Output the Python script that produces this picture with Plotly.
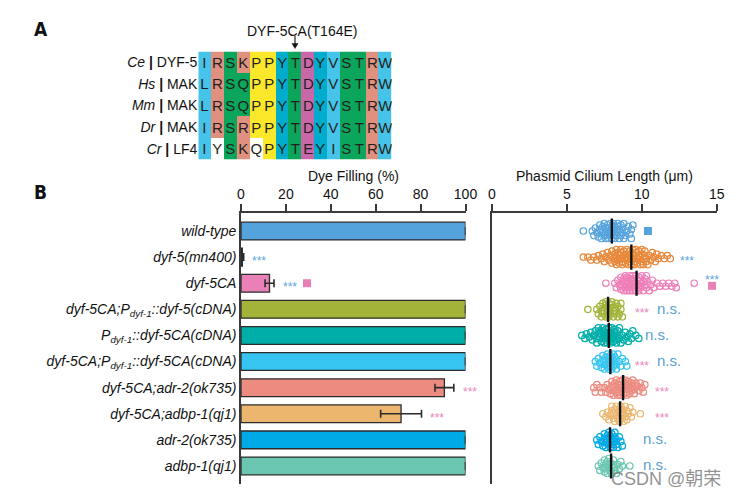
import math
import plotly.graph_objects as go

# ---------------- Panel A data ----------------
species = ["Ce", "Hs", "Mm", "Dr", "Cr"]
proteins = ["DYF-5", "MAK", "MAK", "MAK", "LF4"]
sequences = ["IRSKPPYTDYVSTRW", "LRSQPPYTDYVSTRW", "LRSQPPYTDYVSTRW",
             "IRSRPPYTDYVSTRW", "IYSKQPYTEYISTRW"]
shading = ["BSGSYYTGMTBGGSB", "BSGGYYTGMTBGGSB", "BSGGYYTGMTBGGSB",
           "BSGSYYTGMTBGGSB", "BWGSWYTGMTBGGSB"]
mutation_label = "DYF-5CA(T164E)"
mutation_col = 7

# ---------------- Panel B data ----------------
genotypes = [
    "<i>wild-type</i>",
    "<i>dyf-5(mn400)</i>",
    "<i>dyf-5CA</i>",
    "<i>dyf-5CA;P<sub>dyf-1</sub>::dyf-5(cDNA)</i>",
    "<i>P<sub>dyf-1</sub>::dyf-5CA(cDNA)</i>",
    "<i>dyf-5CA;P<sub>dyf-1</sub>::dyf-5CA(cDNA)</i>",
    "<i>dyf-5CA;adr-2(ok735)</i>",
    "<i>dyf-5CA;adbp-1(qj1)</i>",
    "<i>adr-2(ok735)</i>",
    "<i>adbp-1(qj1)</i>",
]
dye_filling = [100, 0.6, 12.7, 100, 100, 100, 90.6, 71.3, 100, 100]
dye_error = [0, 0.6, 2.0, 0, 0, 0, 4.2, 9.1, 0, 0]

len_wt = [6.1, 6.7, 6.8, 6.9, 7.0, 7.1, 7.2, 7.2, 7.3, 7.3, 7.4, 7.4, 7.5, 7.5, 7.6, 7.6,
          7.7, 7.7, 7.7, 7.8, 7.8, 7.8, 7.9, 7.9, 7.9, 8.0, 8.0, 8.0, 8.1, 8.1, 8.1, 8.2,
          8.2, 8.3, 8.3, 8.4, 8.4, 8.5, 8.5, 8.6, 8.6, 8.7, 8.7, 8.8, 8.8, 8.9, 9.0, 9.1,
          9.2, 9.3, 9.3, 9.4, 7.6, 8.2, 8.4]
len_mn400 = [6.1, 6.4, 6.6, 6.8, 7.0, 7.1, 7.3, 7.4, 7.5, 7.6, 7.7, 7.8, 7.9, 8.0, 8.0, 8.1,
             8.2, 8.2, 8.3, 8.3, 8.4, 8.4, 8.5, 8.5, 8.6, 8.6, 8.7, 8.7, 8.8, 8.8, 8.9, 8.9,
             9.0, 9.0, 9.0, 9.1, 9.1, 9.2, 9.2, 9.3, 9.3, 9.4, 9.4, 9.5, 9.5, 9.6, 9.6, 9.7,
             9.7, 9.8, 9.8, 9.9, 9.9, 10.0, 10.0, 10.1, 10.1, 10.2, 10.2, 10.3, 10.3, 10.4,
             10.5, 10.6, 10.7, 10.8, 10.9, 11.0, 11.1, 11.3, 11.5, 11.7, 11.9, 8.6, 9.2, 9.5,
             10.0, 8.3, 9.0, 9.8]
len_ca = [7.6, 8.2, 8.3, 8.4, 8.5, 8.6, 8.6, 8.7, 8.7, 8.8, 8.8, 8.9, 8.9, 9.0, 9.0, 9.0,
          9.1, 9.1, 9.1, 9.2, 9.2, 9.2, 9.3, 9.3, 9.3, 9.4, 9.4, 9.4, 9.5, 9.5, 9.5, 9.6,
          9.6, 9.7, 9.7, 9.8, 9.8, 9.9, 9.9, 10.0, 10.0, 10.1, 10.1, 10.2, 10.2, 10.3, 10.4,
          10.5, 10.6, 10.7, 10.8, 11.0, 11.2, 11.4, 11.6, 11.8, 12.0, 12.2, 12.3, 13.5, 9.0,
          9.4, 9.8, 10.3, 8.9]
len_ca_wtres = [6.4, 7.0, 7.1, 7.2, 7.3, 7.3, 7.4, 7.4, 7.5, 7.5, 7.6, 7.6, 7.6, 7.7, 7.7,
                7.7, 7.8, 7.8, 7.8, 7.9, 7.9, 8.0, 8.0, 8.1, 8.1, 8.2, 8.2, 8.3, 8.3, 8.4,
                8.5, 8.6, 8.7, 8.6, 8.4]
len_ca_cdna = [6.0, 6.2, 6.3, 6.5, 6.6, 6.7, 6.8, 6.9, 7.0, 7.0, 7.1, 7.1, 7.2, 7.2, 7.3,
               7.3, 7.4, 7.4, 7.5, 7.5, 7.5, 7.6, 7.6, 7.6, 7.7, 7.7, 7.7, 7.8, 7.8, 7.8,
               7.9, 7.9, 7.9, 8.0, 8.0, 8.0, 8.1, 8.1, 8.1, 8.2, 8.2, 8.3, 8.3, 8.4, 8.4,
               8.5, 8.5, 8.6, 8.7, 8.8, 8.9, 9.0, 9.1, 9.2, 9.3, 9.4, 9.6, 9.8, 7.6, 8.0,
               7.4, 8.2]
len_ca_cares = [6.9, 7.0, 7.1, 7.2, 7.3, 7.4, 7.4, 7.5, 7.5, 7.6, 7.6, 7.7, 7.7, 7.8, 7.8,
                7.8, 7.9, 7.9, 7.9, 8.0, 8.0, 8.1, 8.1, 8.2, 8.2, 8.3, 8.3, 8.4, 8.5, 8.6,
                8.7, 8.9, 9.0, 8.0]
len_ca_adr2 = [6.8, 6.9, 7.0, 7.2, 7.3, 7.5, 7.6, 7.7, 7.8, 7.9, 8.0, 8.0, 8.1, 8.1, 8.2,
               8.2, 8.3, 8.3, 8.4, 8.4, 8.5, 8.5, 8.6, 8.6, 8.7, 8.7, 8.8, 8.8, 8.9, 8.9,
               9.0, 9.0, 9.0, 9.1, 9.1, 9.2, 9.2, 9.3, 9.3, 9.4, 9.4, 9.5, 9.5, 9.6, 9.7,
               9.8, 9.9, 10.0, 10.1, 10.2, 8.6, 8.9, 9.1, 8.4]
len_ca_adbp1 = [7.4, 7.6, 7.7, 7.8, 7.9, 8.0, 8.0, 8.1, 8.1, 8.2, 8.2, 8.3, 8.3, 8.4, 8.4,
                8.5, 8.5, 8.6, 8.6, 8.7, 8.7, 8.8, 8.8, 8.9, 8.9, 9.0, 9.0, 9.1, 9.2, 9.3,
                9.4, 9.9, 8.6]
len_adr2 = [7.0, 7.1, 7.2, 7.3, 7.4, 7.5, 7.5, 7.6, 7.6, 7.7, 7.7, 7.8, 7.8, 7.9, 7.9, 8.0,
            8.0, 8.0, 8.1, 8.1, 8.2, 8.2, 8.3, 8.3, 8.4, 8.5, 8.6, 8.7, 7.9, 8.0]
len_adbp1 = [7.1, 7.2, 7.3, 7.4, 7.5, 7.5, 7.6, 7.6, 7.7, 7.7, 7.8, 7.8, 7.9, 7.9, 8.0, 8.0,
             8.1, 8.1, 8.2, 8.2, 8.3, 8.4, 8.5, 8.6, 8.7, 9.2]
cilium_lengths = [len_wt, len_mn400, len_ca, len_ca_wtres, len_ca_cdna, len_ca_cares,
                  len_ca_adr2, len_ca_adbp1, len_adr2, len_adbp1]
cilium_means = [8.0, 9.3, 9.65, 7.75, 7.8, 7.9, 8.75, 8.55, 7.88, 7.95]

# significance labels (row, text)
dye_sig_vs_wt = [(1, "***"), (2, "***")]
dye_sig_vs_ca = [(3, "***"), (5, "***"), (6, "***"), (7, "***")]
len_sig = [  # row, x (µm), text, colour key, dy
    (1, 13.0, "***", "b", 0), (2, 14.69, "***", "b", -0.26),
    (3, 10.0, "***", "p", 0), (3, 11.8, "n.s.", "n", 0),
    (4, 11.0, "n.s.", "n", 0),
    (5, 10.0, "***", "p", 0), (5, 11.8, "n.s.", "n", 0),
    (6, 11.35, "***", "p", 0), (7, 11.35, "***", "p", 0),
    (8, 10.9, "n.s.", "n", 0), (9, 10.9, "n.s.", "n", 0),
]

# ---------------- styles ----------------
FONT = "Liberation Sans, Arial, Helvetica, sans-serif"
DARK = "#2b2b2b"
BLUE_SIG = "#5aa6de"
PINK_SIG = "#ec84bb"
NS = "#5a9fd6"
bar_colors = ["#55a3dc", "#222222", "#ea80b8", "#a3b33a", "#00aea9", "#36c5f0",
              "#ec8b80", "#ecb66f", "#00aae6", "#6ac6b1"]
dot_colors = ["#55a3dc", "#e8883a", "#ee7eb8", "#a3b33a", "#00aea9", "#36c5f0",
              "#ec8b80", "#ecb66f", "#00aae6", "#6ac6b1"]
shade_index = {"W": 0, "B": 1, "S": 2, "G": 3, "Y": 4, "T": 5, "M": 6}
shade_colors = ["#ffffff", "#45c3e8", "#e0907e", "#0ba55b", "#fce82a", "#00accb", "#c868a8"]

W, H = 738, 497
ALIGN_X = (198.3, 391.7)   # alignment block, pixels
ALIGN_Y = (51.5, 159.5)


def px_x(p):
    return p / W


def px_y(p):
    return 1 - p / H


fig = go.Figure()

# ---------------- Panel A heatmap ----------------
z = [[shade_index[c] for c in row] for row in shading]
n = len(shade_colors)
cs = []
for i, c in enumerate(shade_colors):
    cs.append([i / n, c])
    cs.append([(i + 1) / n, c])
text = [list(s) for s in sequences]
fig.add_trace(go.Heatmap(
    z=z, x=list(range(len(sequences[0]))), y=list(range(len(sequences))),
    text=text, texttemplate="%{text}",
    textfont=dict(size=15, color="#231f20", family=FONT),
    colorscale=cs, zmin=-0.5, zmax=n - 0.5, showscale=False,
    xaxis="x3", yaxis="y3", hoverinfo="skip", xgap=0, ygap=0,
))

# ---------------- Panel B bars ----------------
rows = list(range(len(genotypes)))
fig.add_trace(go.Bar(
    x=dye_filling, y=rows, orientation="h", width=0.68,
    marker=dict(color=bar_colors, line=dict(color=DARK, width=1.3)),
    error_x=dict(type="data", array=dye_error, visible=True, color=DARK,
                 thickness=1.6, width=4),
    xaxis="x", yaxis="y", showlegend=False, hoverinfo="skip",
))


# ---------------- Panel B swarm ----------------
def swarm_offsets(vals, xscale=14.98, yscale=26.1, dmin=4.2, step=1.5, maxoff=8.0):
    order = sorted(range(len(vals)), key=lambda i: vals[i])
    cands = [0.0]
    k = 1
    while k * step <= maxoff:
        cands += [k * step, -k * step]
        k += 1
    placed = []
    offs = [0.0] * len(vals)
    for i in order:
        xp = vals[i] * xscale
        best, bestd = 0.0, -1
        for c in cands:
            md = 1e9
            for (qx, qy) in placed:
                if abs(xp - qx) < dmin:
                    md = min(md, math.hypot(xp - qx, c - qy))
            if md >= dmin:
                best = c
                break
            if md > bestd:
                bestd, best = md, c
        placed.append((xp, best))
        offs[i] = best / yscale
    return offs


for r, vals in enumerate(cilium_lengths):
    offs = swarm_offsets(vals)
    fig.add_trace(go.Scatter(
        x=vals, y=[r + o for o in offs], mode="markers",
        marker=dict(symbol="circle-open", size=6.5, color=dot_colors[r],
                    line=dict(width=1.2, color=dot_colors[r])),
        xaxis="x2", yaxis="y2", showlegend=False, hoverinfo="skip",
    ))

fig.add_trace(go.Scatter(
    x=cilium_means, y=rows, mode="markers",
    marker=dict(symbol="line-ns", size=18, line=dict(width=2.4, color="#111111")),
    xaxis="x2", yaxis="y2", showlegend=False, hoverinfo="skip",
))

# comparison squares
fig.add_trace(go.Scatter(
    x=[dye_filling[0] + 4.2, dye_filling[2] + dye_error[2] + 14.7],
    y=[0, 2], mode="markers",
    marker=dict(symbol="square", size=8, color=[bar_colors[0], bar_colors[2]]),
    xaxis="x", yaxis="y", showlegend=False, hoverinfo="skip", cliponaxis=False,
))
fig.add_trace(go.Scatter(
    x=[10.41, 14.69], y=[0, 2.1], mode="markers",
    marker=dict(symbol="square", size=8, color=[bar_colors[0], bar_colors[2]]),
    xaxis="x2", yaxis="y2", showlegend=False, hoverinfo="skip", cliponaxis=False,
))

annotations = []
# significance stars in bar panel
for r, t in dye_sig_vs_wt:
    annotations.append(dict(x=dye_filling[r] + dye_error[r] + 3, y=r, xref="x", yref="y",
                            text=t, showarrow=False, xanchor="left", yanchor="middle",
                            yshift=-4, font=dict(size=12, color=BLUE_SIG, family=FONT)))
for r, t in dye_sig_vs_ca:
    annotations.append(dict(x=dye_filling[r] + dye_error[r] + 3, y=r, xref="x", yref="y",
                            text=t, showarrow=False, xanchor="left", yanchor="middle",
                            yshift=-4, font=dict(size=12, color=PINK_SIG, family=FONT)))
for r, xv, t, ck, dy in len_sig:
    col = {"b": BLUE_SIG, "p": PINK_SIG, "n": NS}[ck]
    is_star = t == "***"
    annotations.append(dict(x=xv, y=r + dy, xref="x2", yref="y2", text=t, showarrow=False,
                            xanchor="center", yanchor="middle", yshift=-4 if is_star else 1,
                            font=dict(size=12 if is_star else 15, color=col, family=FONT)))


def label(xp, yp, txt, size, family=FONT, color="#111"):
    return dict(x=px_x(xp), y=px_y(yp), xref="paper", yref="paper", text=txt,
                showarrow=False, xanchor="center", yanchor="middle",
                font=dict(size=size, color=color, family=family))


# axis titles
annotations.append(dict(x=0.5, y=px_y(176), xref="x domain", yref="paper",
                        text="Dye Filling (%)", showarrow=False,
                        xanchor="center", yanchor="middle",
                        font=dict(size=14, color="#111", family=FONT)))
annotations.append(dict(x=0.5, y=px_y(176), xref="x2 domain", yref="paper",
                        text="Phasmid Cilium Length (μm)", showarrow=False,
                        xanchor="center", yanchor="middle",
                        font=dict(size=14, color="#111", family=FONT)))
# panel letters
LETTER_FONT = "Liberation Sans Narrow, DejaVu Sans Condensed, Arial Narrow, sans-serif"
annotations.append(label(41, 29, "<b>A</b>", 19, LETTER_FONT))
annotations.append(label(40, 192, "<b>B</b>", 19, LETTER_FONT))
# mutation label
annotations.append(label(301.5, 31, mutation_label, 14))
# watermark
annotations.append(label(666, 479, "CSDN @朝荣", 18, "Liberation Sans, Noto Sans CJK SC",
                         "rgba(110,110,110,0.75)"))

# mutation arrow (line + head) above the mutated column, in paper coordinates
ncol = len(sequences[0])
col_px = ALIGN_X[0] + (mutation_col + 0.5) / ncol * (ALIGN_X[1] - ALIGN_X[0])
tip = ALIGN_Y[0] - 3
shapes = [
    dict(type="line", xref="paper", yref="paper", x0=px_x(col_px), x1=px_x(col_px),
         y0=px_y(tip - 13), y1=px_y(tip - 3), line=dict(color="#111", width=1.1)),
    dict(type="path", xref="paper", yref="paper",
         path="M %f,%f L %f,%f L %f,%f Z" % (px_x(col_px - 3), px_y(tip - 5),
                                               px_x(col_px + 3), px_y(tip - 5),
                                               px_x(col_px), px_y(tip)),
         fillcolor="#111", line=dict(color="#111", width=0.5)),
]

ydom = [px_y(484), px_y(213)]
yrange = [9.69, -0.69]
axis_common = dict(showline=True, linecolor="#3a3a3a", linewidth=1.6, zeroline=False,
                   showgrid=False, ticks="outside", ticklen=7, tickwidth=1.5,
                   tickcolor="#3a3a3a", side="top", automargin=False,
                   tickfont=dict(size=14, color="#111", family=FONT))

heat_labels = ["<i>%s</i> <b>|</b> %s" % (s, p) for s, p in zip(species, proteins)]

fig.update_layout(
    width=W, height=H, margin=dict(l=0, r=0, t=0, b=0, pad=0, autoexpand=False),
    paper_bgcolor="white", plot_bgcolor="white", showlegend=False,
    bargap=0.3,
    xaxis=dict(domain=[px_x(241), px_x(465.5)], range=[0, 100], anchor="y",
               tickvals=[0, 20, 40, 60, 80, 100], **axis_common),
    yaxis=dict(domain=ydom, range=yrange, anchor="x", tickvals=rows, ticktext=genotypes,
               showline=True, linecolor="#3a3a3a", linewidth=1.6, ticks="",
               showgrid=False, zeroline=False, automargin=False,
               tickfont=dict(size=14, color="#111", family=FONT)),
    xaxis2=dict(domain=[px_x(492), px_x(716.7)], range=[0, 15], anchor="y2",
                tickvals=[0, 5, 10, 15], **axis_common),
    yaxis2=dict(domain=ydom, range=yrange, anchor="x2", showticklabels=False,
                showline=True, linecolor="#3a3a3a", linewidth=1.6, ticks="",
                showgrid=False, zeroline=False, automargin=False),
    xaxis3=dict(domain=[px_x(ALIGN_X[0]), px_x(ALIGN_X[1])], range=[-0.5, ncol - 0.5],
                anchor="y3", visible=False, automargin=False),
    yaxis3=dict(domain=[px_y(ALIGN_Y[1]), px_y(ALIGN_Y[0])], range=[4.5, -0.5], anchor="x3",
                tickvals=list(range(5)), ticktext=heat_labels, ticks="",
                showline=False, showgrid=False, zeroline=False, automargin=False,
                tickfont=dict(size=14, color="#111", family=FONT)),
    annotations=annotations,
    shapes=shapes,
)

fig.write_html("out.html", config={"displayModeBar": False},
               post_script="document.body.style.margin='0';document.body.style.padding='0';")
